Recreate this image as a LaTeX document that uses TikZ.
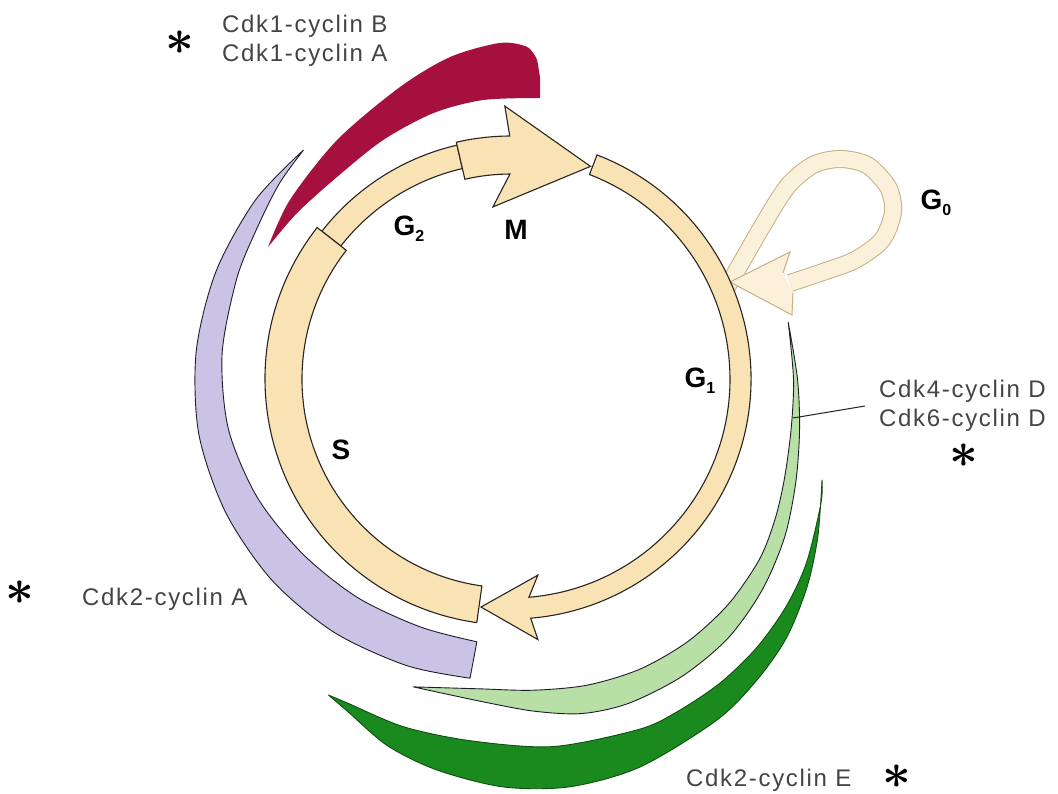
\documentclass[tikz,border=0pt]{standalone}
\usepackage{fontspec}
\newfontfamily\lblfont[LetterSpace=7]{Liberation Sans}
\newfontfamily\phfont{Liberation Sans}
\definecolor{ringfill}{HTML}{F9E3B5}
\definecolor{ringline}{HTML}{2A2420}
\definecolor{gzfill}{HTML}{FBF1DA}
\definecolor{gzline}{HTML}{C4B084}
\definecolor{crimson}{HTML}{A5103E}
\definecolor{lavender}{HTML}{CBC3E6}
\definecolor{lightgreen}{HTML}{B7DFA6}
\definecolor{darkgreen}{HTML}{1B8A1E}
\definecolor{darkgreenline}{HTML}{0E4F10}
\definecolor{bandline}{HTML}{1E1E2A}
\definecolor{lblgrey}{HTML}{444444}
\newcommand{\phsub}[1]{\raisebox{-0.22em}{\fontsize{16}{16}\selectfont #1}}
\newcommand{\bigstar}{\smash{\scalebox{5}{\boldmath$\ast$}}}
\begin{document}
\begin{tikzpicture}[x=1pt,y=1pt,
  ringseg/.style={fill=ringfill, draw=ringline, line width=1.1pt, line join=miter},
  bandshape/.style={line width=0.9pt, line join=round},
  gztube/.style={draw=gzline, line width=1pt, double=gzfill, double distance=16pt},
  lbl/.style={font=\lblfont\fontsize{24}{28}\selectfont, text=lblgrey, inner sep=0pt},
  phase/.style={font=\phfont\bfseries\fontsize{28}{30}\selectfont, inner sep=0pt},
  star/.style={inner sep=0pt, anchor=base}]
\fill[white] (0,0) rectangle (1058,-794);
\useasboundingbox (0,0) rectangle (1058,-794);

\begin{scope}[shift={(511,-379)}]
% Cdk1-cyclin B / A (crimson)
\fill[crimson] plot[smooth] coordinates {(151.5:276.5) (141:284.5) (126:295.6) (110.8:312.4) (100.7:327.7) (91.9:336.2) (87.2:332.4) (85.3:320)}
  -- (84.5:303) -- (84.1:283)
  -- plot[smooth] coordinates {(84.1:282.5) (95.7:280.4) (106.3:277) (118.2:271) (130.7:266.6) (142.2:270.8) (151.5:276.5)} -- cycle;
% Cdk2-cyclin A (lavender)
\filldraw[bandshape, fill=lavender, draw=bandline] plot[smooth] coordinates {(132.2:309) (145:312) (160:314) (175:316) (190:317) (205:315) (220:312.5) (235:309) (250:305) (262.2:302)}
  -- (262.6:265)
  -- plot[smooth] coordinates {(262.6:265) (250:264) (235:267) (220:272) (205:280) (190:287) (175:290) (160:292) (150:295) (140:303) (132.2:309)} -- cycle;
% Cdk4/6-cyclin D (light green)
\filldraw[bandshape, fill=lightgreen, draw=bandline] plot[smooth] coordinates {(11.6:283) (0:286.5) (-10:293) (-20:303) (-30:316) (-40:328) (-50:338) (-60:343) (-70:345) (-78:342) (-86:333) (-95:324) (-107.6:323)}
  -- plot[smooth] coordinates {(-107.6:323) (-96:311.5) (-86:312) (-76:315.5) (-66:317.5) (-56:316.5) (-46:313) (-36:307) (-28:299) (-20:291) (-10:284.5) (0:282.5) (11.6:283)} -- cycle;
% Cdk2-cyclin E (dark green)
\filldraw[bandshape, fill=darkgreen, draw=darkgreenline] plot[smooth] coordinates {(-18:327) (-27.2:345) (-35.1:361.8) (-43.1:377.8) (-50.7:388.7) (-58.9:398.4) (-71.6:408.9) (-81.8:412) (-91.1:408) (-100.7:398) (-108.6:387) (-116.4:370) (-120:365)}
  -- plot[smooth] coordinates {(-120:365) (-116.8:363) (-107.2:364) (-96.5:364) (-83.5:370) (-70:373) (-63.6:372) (-55.5:369) (-47.5:364) (-39.6:357) (-31.9:348) (-21.9:334) (-18:327)} -- cycle;
\end{scope}

% G0 loop
\draw[gztube] plot[smooth] coordinates {(722,-294) (733,-277) (760,-230) (787,-187) (813,-165) (840,-159) (867,-165) (888,-187) (893,-212) (882,-240) (855,-260) (823,-272) (790,-283)};
\fill[gzfill] (730,-282) -- (790,-252) -- (783,-273) -- (793,-293) -- (792,-315) -- cycle;
\draw[gzline, line width=1pt, line join=miter] (783,-273) -- (790,-252) -- (730,-282) -- (792,-315) -- (793,-293);

\begin{scope}[shift={(511,-379)}]
% G2
\filldraw[ringseg] (103:240) arc[start angle=103, end angle=142, radius=240pt] -- (142:216) arc[start angle=142, end angle=103, radius=216pt] -- cycle;
% M
\filldraw[ringseg] (103:243) arc[start angle=103, end angle=90.3, radius=243pt] -- (91.3:273) -- (69.5:227) -- (96:173) -- (90.3:205) arc[start angle=90.3, end angle=103, radius=205pt] -- cycle;
% S
\filldraw[ringseg] (142:246) arc[start angle=142, end angle=262, radius=246pt] -- (262:209) arc[start angle=262, end angle=142, radius=209pt] -- cycle;
% G1
\filldraw[ringseg] (69:240) arc[start angle=69, end angle=-85.3, radius=240pt] -- (-84.1:262) -- (-97.5:230) -- (-82.2:198) -- (-85.3:219) arc[start angle=-85.3, end angle=69, radius=219pt] -- cycle;
\end{scope}

% phase labels
\node[phase] (g2) at (409,-229) {G\phsub{2}};
\node[phase] (m) at (516,-230) {M};
\node[phase] (g1) at (700,-381) {G\phsub{1}};
\node[phase] (s) at (341,-450) {S};
\node[phase] (g0) at (936,-203) {G\phsub{0}};

% labels
\node[lbl, anchor=base west] (cdkb) at (222,-33) {Cdk1-cyclin B};
\node[lbl, anchor=base west] (cdka1) at (222,-62) {Cdk1-cyclin A};
\node[lbl, anchor=base west] (cdkd4) at (879,-398) {Cdk4-cyclin D};
\node[lbl, anchor=base west] (cdkd6) at (879,-426) {Cdk6-cyclin D};
\node[lbl, anchor=base west] (cdka2) at (82,-605) {Cdk2-cyclin A};
\node[lbl, anchor=base west] (cdke) at (686,-786) {Cdk2-cyclin E};
\coordinate (cdpt) at (793,-418);
\coordinate (cdend) at (865,-406);
\draw[line width=1pt, ringline] (cdpt) -- (cdend);

% asterisks (node placed at the baseline, ink centred on the math axis)
\node[star] (st1) at (180,-54.5) {\bigstar};
\node[star] (st2) at (964,-467.5) {\bigstar};
\node[star] (st3) at (20,-604.5) {\bigstar};
\node[star] (st4) at (897,-788.5) {\bigstar};
\end{tikzpicture}
\end{document}
